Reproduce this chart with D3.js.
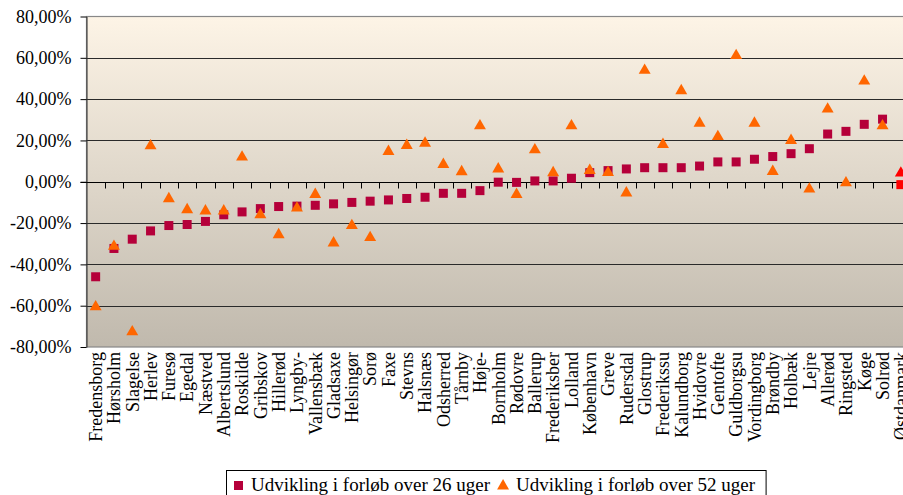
<!DOCTYPE html>
<html>
<head>
<meta charset="utf-8">
<script src="https://cdn.jsdelivr.net/npm/d3@7"></script>
<style>
  body { margin: 0; background: #fff; }
  svg { display: block; font-family: "Liberation Serif", "Times New Roman", serif; }
</style>
</head>
<body>
<div id="chart"></div>
<script>
var kommuner = ["Fredensborg", "Hørsholm", "Slagelse", "Herlev", "Furesø", "Egedal", "Næstved",
    "Albertslund", "Roskilde", "Gribskov", "Hillerød", "Lyngby-", "Vallensbæk", "Gladsaxe",
    "Helsingør", "Sorø", "Faxe", "Stevns", "Halsnæs", "Odsherred", "Tårnby", "Høje-", "Bornholm",
    "Rødovre", "Ballerup", "Frederiksber", "Lolland", "København", "Greve", "Rudersdal", "Glostrup",
    "Frederikssu", "Kalundborg", "Hvidovre", "Gentofte", "Guldborgsu", "Vordingborg", "Brøndby",
    "Holbæk", "Lejre", "Allerød", "Ringsted", "Køge", "Solrød", "Østdanmark"];

// udvikling over 26 uger (andel)
var uger26 = [-0.460, -0.323, -0.278, -0.238, -0.212, -0.207, -0.192, -0.160, -0.146, -0.130,
    -0.120, -0.118, -0.114, -0.107, -0.100, -0.094, -0.088, -0.081, -0.075, -0.056, -0.056,
    -0.043, -0.002, -0.003, 0.004, 0.004, 0.017, 0.044, 0.054, 0.062, 0.068, 0.068, 0.068,
    0.076, 0.096, 0.096, 0.109, 0.122, 0.136, 0.160, 0.231, 0.244, 0.278, 0.303, -0.014];

// udvikling over 52 uger (andel)
var uger52 = [-0.603, -0.310, -0.724, 0.176, -0.080, -0.133, -0.139, -0.139, 0.122, -0.157,
    -0.254, -0.125, -0.059, -0.294, -0.210, -0.268, 0.149, 0.178, 0.189, 0.086, 0.051, 0.273,
    0.064, -0.059, 0.157, 0.046, 0.273, 0.057, 0.047, -0.052, 0.542, 0.183, 0.443, 0.286,
    0.221, 0.613, 0.286, 0.052, 0.202, -0.033, 0.354, -0.003, 0.490, 0.273, 0.044];

var yTicks = [-0.8, -0.6, -0.4, -0.2, 0, 0.2, 0.4, 0.6, 0.8];
var seriesNames = ["Udvikling i forløb over 26 uger", "Udvikling i forløb over 52 uger"];

const width = 903;
const height = 495;
const marginTop = 16.5;
const marginLeft = 86.5;
const plotBottom = 347;
const band = 18.3;

const locale = d3.formatLocale({ decimal: ",", thousands: ".", grouping: [3], currency: ["", " kr"], minus: "-" });
const pct = locale.format(".2%");

const x = d3.scaleBand()
    .domain(kommuner)
    .range([marginLeft, marginLeft + band * kommuner.length]);

const y = d3.scaleLinear()
    .domain([-0.8, 0.8])
    .range([plotBottom, marginTop]);

const svg = d3.select("#chart").append("svg")
    .attr("width", width)
    .attr("height", height)
    .attr("viewBox", [0, 0, width, height]);

const grad = svg.append("defs").append("linearGradient")
    .attr("id", "bg")
    .attr("x1", 0).attr("y1", 0).attr("x2", 0).attr("y2", 1);
grad.append("stop").attr("offset", "0%").attr("stop-color", "#fdf4e6");
grad.append("stop").attr("offset", "100%").attr("stop-color", "#c0b9ad");

const plotRight = x.range()[1];

svg.append("rect")
    .attr("x", marginLeft)
    .attr("y", marginTop)
    .attr("width", plotRight - marginLeft)
    .attr("height", plotBottom - marginTop)
    .attr("fill", "url(#bg)")
    .attr("stroke", "#888")
    .attr("stroke-width", 1.2);

// gitterlinjer
svg.append("g")
    .selectAll("line")
    .data(yTicks.filter(d => d > -0.8 && d < 0.8 && d !== 0))
    .join("line")
    .attr("x1", marginLeft)
    .attr("x2", plotRight)
    .attr("y1", d => Math.round(y(d)) + 0.5)
    .attr("y2", d => Math.round(y(d)) + 0.5)
    .attr("stroke", "#2a2a2a")
    .attr("stroke-width", 1);

// y-akse
const gy = svg.append("g")
    .attr("transform", `translate(${marginLeft},0)`)
    .call(d3.axisLeft(y).tickValues(yTicks).tickFormat(pct).tickSize(6).tickPadding(9).tickSizeOuter(0));
gy.select(".domain").attr("stroke", "#333");
gy.selectAll(".tick line").attr("stroke", "#000");
gy.selectAll("text")
    .attr("font-size", 18)
    .attr("font-family", "Liberation Serif, Times New Roman, serif")
    .attr("fill", "#000");

// x-akse ved 0
const zeroY = Math.round(y(0)) + 0.5;
svg.append("line")
    .attr("x1", marginLeft - 6)
    .attr("x2", width)
    .attr("y1", zeroY)
    .attr("y2", zeroY)
    .attr("stroke", "#000");

svg.append("g")
    .selectAll("line")
    .data(kommuner.slice(1))
    .join("line")
    .attr("x1", d => Math.round(x(d)) + 0.5)
    .attr("x2", d => Math.round(x(d)) + 0.5)
    .attr("y1", zeroY)
    .attr("y2", zeroY + 6)
    .attr("stroke", "#000");

// kategori-tekster
svg.append("g")
    .selectAll("text")
    .data(kommuner)
    .join("text")
    .attr("transform", d => `translate(${x(d) + x.bandwidth() / 2},${plotBottom + 5}) rotate(-90)`)
    .attr("text-anchor", "end")
    .attr("dy", "0.35em")
    .attr("font-size", 18)
    .attr("fill", "#000")
    .text(d => d);

// punkter
const last = kommuner[kommuner.length - 1];

svg.append("g")
    .selectAll("rect")
    .data(kommuner)
    .join("rect")
    .attr("x", d => x(d) + x.bandwidth() / 2 - 4.5)
    .attr("y", (d, i) => y(uger26[i]) - 4.5)
    .attr("width", 9)
    .attr("height", 9)
    .attr("fill", d => d === last ? "#ff0000" : "#b5003a");

const tri = d3.symbol().type(d3.symbolTriangle).size(62);

svg.append("g")
    .selectAll("path")
    .data(kommuner)
    .join("path")
    .attr("transform", (d, i) => `translate(${x(d) + x.bandwidth() / 2},${y(uger52[i]) + 0.5})`)
    .attr("d", tri)
    .attr("fill", d => d === last ? "#ff0000" : "#ff6600");

// legende
const leg = svg.append("g");
const legBox = leg.append("rect")
    .attr("x", 226.5)
    .attr("y", 470.5)
    .attr("height", 40)
    .attr("fill", "#fff")
    .attr("stroke", "#000");

leg.append("rect")
    .attr("x", 234)
    .attr("y", 481)
    .attr("width", 9)
    .attr("height", 9)
    .attr("fill", "#b5003a");

const t1 = leg.append("text")
    .attr("x", 251)
    .attr("y", 491)
    .attr("font-size", 19)
    .text(seriesNames[0]);

const x2 = 251 + t1.node().getComputedTextLength() + 7;

leg.append("path")
    .attr("transform", `translate(${x2 + 6},${486})`)
    .attr("d", tri)
    .attr("fill", "#ff6600");

const t2 = leg.append("text")
    .attr("x", x2 + 19)
    .attr("y", 491)
    .attr("font-size", 19)
    .text(seriesNames[1]);

legBox.attr("width", x2 + 19 + t2.node().getComputedTextLength() + 11 - 226.5);
</script>
</body>
</html>
